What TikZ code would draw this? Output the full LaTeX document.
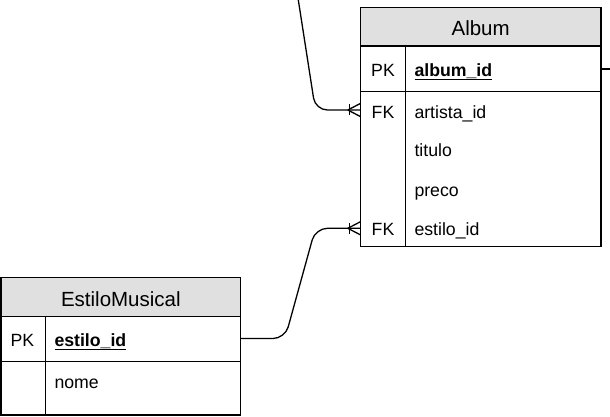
\documentclass[tikz,border=0pt]{standalone}
\usepackage{fontspec}
\setmainfont{Liberation Sans}
\usetikzlibrary{calc}
\newcommand\ulbold[1]{\setbox0\hbox{\bfseries #1}\rlap{\rule[-3.4pt]{\wd0}{1.2pt}}\box0}
\definecolor{hdrgray}{HTML}{E0E0E0}
\tikzset{
  tbl/.style={line width=1.3pt, draw=black},
  bodytxt/.style={font=\fontsize{17.7}{20}\selectfont, inner sep=0pt, anchor=base west},
  keytxt/.style={font=\fontsize{17.7}{20}\selectfont, inner sep=0pt, anchor=base},
  hdrtxt/.style={font=\fontsize{20.5}{24}\selectfont, inner sep=0pt, anchor=base},
  rowbox/.style={inner sep=0pt, outer sep=0pt, draw=none, minimum width=240.7pt, minimum height=39pt},
  conn/.style={line width=1.3pt, rounded corners=12pt},
  foot/.style={line width=1.3pt},
}
\begin{document}
\begin{tikzpicture}[x=1pt,y=-1pt]
\useasboundingbox (0,0) rectangle (610,417);
% ---------- Album table ----------
\fill[hdrgray] (360.3,7.3) rectangle (601,46);
\draw[tbl] (360.3,7.3) rectangle (601,246.7);
\draw[tbl] (360.3,46) -- (601,46);
\draw[tbl] (360.3,91.7) -- (601,91.7);
\draw[tbl] (405.7,46) -- (405.7,246.7);
\node[rowbox] (album-pk) at (480.65,69) {};
\node[rowbox] (album-artista) at (480.65,110) {};
\node[rowbox] (album-estilo) at (480.65,228.3) {};
\node[hdrtxt] (album-title) at (480.65,36) {Album};
\node[keytxt] (album-pkl) at (383,76.5) {PK};
\node[bodytxt] (album-pkf) at (414.3,76.5) {\ulbold{album\_id}};
\node[keytxt] (album-fk1) at (383,118) {FK};
\node[bodytxt] (album-f1) at (414.3,118) {artista\_id};
\node[bodytxt] (album-f2) at (414.3,157) {titulo};
\node[bodytxt] (album-f3) at (414.3,196) {preco};
\node[keytxt] (album-fk2) at (383,235.5) {FK};
\node[bodytxt] (album-f4) at (414.3,235.5) {estilo\_id};
% ---------- EstiloMusical table ----------
\fill[hdrgray] (1,277.7) rectangle (240.7,316.7);
\draw[tbl] (1,277.7) rectangle (240.7,415);
\draw[tbl] (1,316.7) -- (240.7,316.7);
\draw[tbl] (1,361.7) -- (240.7,361.7);
\draw[tbl] (45.7,316.7) -- (45.7,415);
\node[rowbox, minimum width=239.7pt] (em-pk) at (120.85,338.5) {};
\node[hdrtxt] (em-title) at (120.85,306) {EstiloMusical};
\node[keytxt] (em-pkl) at (22.5,346.5) {PK};
\node[bodytxt] (em-pkf) at (54.3,346.5) {\ulbold{estilo\_id}};
\node[bodytxt] (em-f1) at (54.3,388.3) {nome};
% ---------- connectors ----------
\coordinate (artista-ext) at (298,-2);
\coordinate (pk-ext) at (612,69);
\draw[conn] (artista-ext) -- (315.4,110) -- (album-artista.west);
\draw[conn] (em-pk.east) -- (285,338.5) -- (315.4,228.3) -- (album-estilo.west);
\draw[conn] (album-pk.east) -- (pk-ext);
% crow's feet
\foreach \r in {album-artista, album-estilo}{
  \draw[foot] ($(\r.west)+(-11,-5.5)$) -- ($(\r.west)+(-11,5.5)$);
  \draw[foot] ($(\r.west)+(-12.5,0)$) -- ($(\r.west)+(0,-6.5)$);
  \draw[foot] ($(\r.west)+(-12.5,0)$) -- ($(\r.west)+(0,6.5)$);
}
\end{tikzpicture}
\end{document}
